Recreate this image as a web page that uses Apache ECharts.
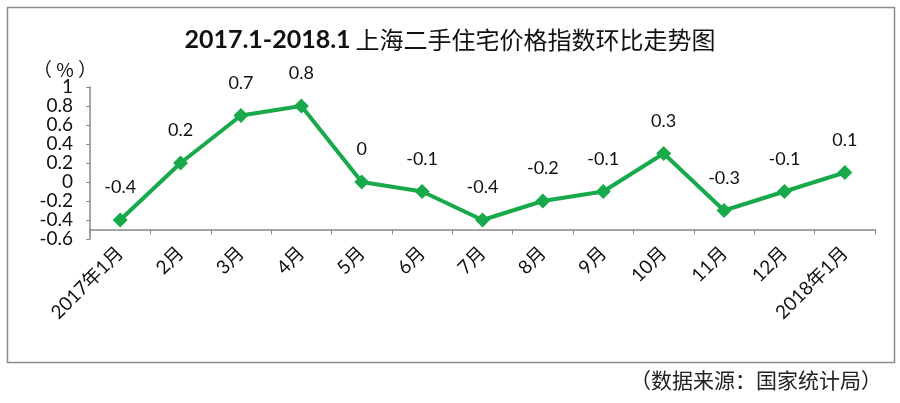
<!DOCTYPE html>
<html>
<head>
<meta charset="utf-8">
<script src="https://cdn.jsdelivr.net/npm/echarts@6/dist/echarts.min.js"></script>
<style>
	html, body { margin: 0; padding: 0; background: #fff; }
	#main { width: 900px; height: 403px; }
</style>
</head>
<body>
<div id="main"></div>
<script>
// 月份 & 环比 (%)
let months = ['2017年1月', '2月', '3月', '4月', '5月', '6月', '7月', '8月', '9月', '10月', '11月', '12月', '2018年1月']
let values = [-0.4, 0.2, 0.7, 0.8, 0, -0.1, -0.4, -0.2, -0.1, 0.3, -0.3, -0.1, 0.1]
let yMin = -0.6
let yMax = 1
let yStep = 0.2
let crossAt = -0.5   // 横轴与纵轴交叉位置

let latin = 'Lato, "Noto Sans CJK SC", sans-serif'
let cjk = '"Noto Sans CJK SC", sans-serif'
let lineColor = '#17a94a'

let myChart = echarts.init(document.getElementById('main'))
let option = {
	animation: false,
	backgroundColor: '#fff',
	title: {
		text: '{a|2017.1-2018.1} {b|上海二手住宅价格指数环比走势图}',
		left: 'center',
		top: 22,
		textStyle: {
			rich: {
				a: { fontFamily: latin, fontSize: 25, fontWeight: 'bold', color: '#111' },
				b: { fontFamily: cjk, fontSize: 24, fontWeight: 'normal', color: '#111' }
			}
		}
	},
	graphic: [
		{
			type: 'rect',
			shape: { x: 7.5, y: 7.5, width: 887, height: 355 },
			style: { fill: 'none', stroke: '#8c8c8c', lineWidth: 1.5 },
			silent: true
		},
		{
			type: 'text',
			right: 18,
			top: 370,
			style: {
				text: '（数据来源：国家统计局）',
				fontFamily: cjk,
				fontSize: 21,
				fill: '#222'
			}
		},
		{
			type: 'text',
			left: 33,
			top: 60,
			style: {
				text: '（ % ）',
				fontFamily: cjk,
				fontSize: 19,
				fill: '#111'
			}
		}
	],
	grid: {
		left: 90,
		right: 25,
		top: 87,
		bottom: 164
	},
	xAxis: {
		type: 'category',
		data: months,
		boundaryGap: true,
		axisLine: {
			onZero: true,
			onZeroAxisIndex: 1,
			lineStyle: { color: '#888', width: 1.5 }
		},
		axisTick: {
			show: true,
			alignWithLabel: false,
			length: 5,
			lineStyle: { color: '#888' }
		},
		axisLabel: {
			rotate: 45,
			interval: 0,
			margin: 11,
			fontFamily: latin,
			fontSize: 19,
			color: '#111'
		},
		splitLine: { show: false }
	},
	yAxis: [
		{
			type: 'value',
			min: yMin,
			max: yMax,
			interval: yStep,
			axisLine: { show: true, lineStyle: { color: '#888', width: 1.5 } },
			axisTick: { show: true, inside: false, length: 4, lineStyle: { color: '#888' } },
			axisLabel: {
				fontFamily: latin,
				fontSize: 19,
				color: '#111',
				margin: 17,
				formatter: function (v) {
					return String(Math.round(v * 10) / 10)
				}
			},
			splitLine: { show: false }
		},
		{
			// 辅助轴，仅用来把横轴放在 -0.5 处
			type: 'value',
			min: yMin - crossAt,
			max: yMax - crossAt,
			show: false,
			splitLine: { show: false }
		}
	],
	series: [
		{
			name: '环比',
			type: 'line',
			yAxisIndex: 0,
			data: values,
			symbol: 'diamond',
			symbolSize: 15,
			lineStyle: { color: lineColor, width: 4 },
			itemStyle: { color: lineColor },
			label: {
				show: true,
				position: 'top',
				distance: 16,
				fontFamily: latin,
				fontSize: 18,
				color: '#111',
				formatter: function (p) {
					return String(p.value)
				}
			}
		}
	]
}
myChart.setOption(option)
</script>
</body>
</html>
